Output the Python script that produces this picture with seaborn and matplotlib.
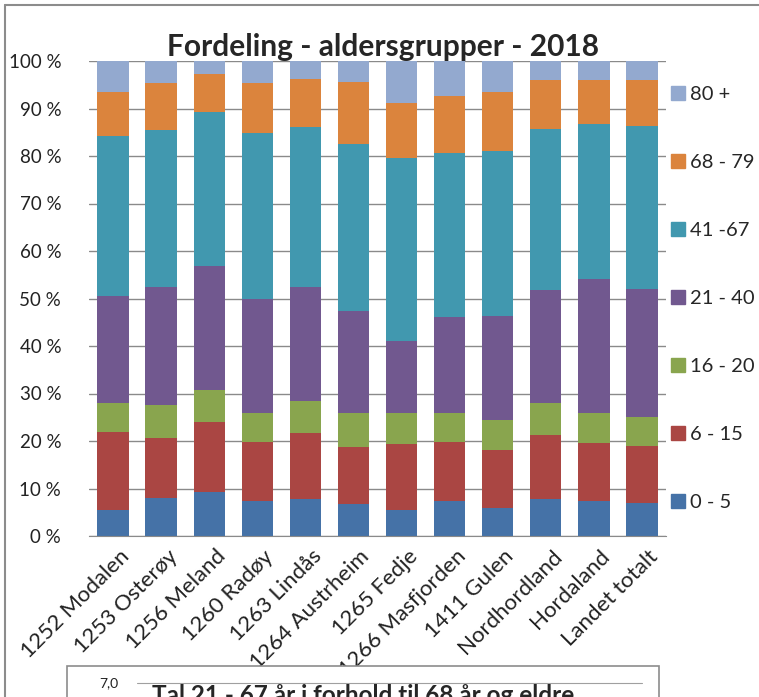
import numpy as np
import pandas as pd
import matplotlib
matplotlib.use("Agg")
import matplotlib.pyplot as plt
import matplotlib.transforms as mtransforms
from matplotlib.lines import Line2D
from matplotlib.patches import Rectangle
import seaborn as sns

# data (percent of population per age group)
kommunar = ["1252 Modalen", "1253 Osterøy", "1256 Meland", "1260 Radøy", "1263 Lindås",
            "1264 Austrheim", "1265 Fedje", "1266 Masfjorden", "1411 Gulen",
            "Nordhordland", "Hordaland", "Landet totalt"]
grupper = ["0 - 5", "6 - 15", "16 - 20", "21 - 40", "41 -67", "68 - 79", "80 +"]
alder_0_5 = [5.5, 7.9, 9.3, 7.4, 7.7, 6.8, 5.5, 7.3, 6.0, 7.7, 7.3, 7.0]
alder_6_15 = [16.3, 12.7, 14.8, 12.3, 13.9, 11.9, 13.9, 12.4, 12.1, 13.5, 12.3, 12.0]
alder_16_20 = [6.1, 6.9, 6.6, 6.3, 6.9, 7.3, 6.6, 6.3, 6.3, 6.7, 6.3, 6.1]
alder_21_40 = [22.7, 24.9, 26.2, 24.0, 23.9, 21.3, 15.1, 20.1, 21.9, 23.9, 28.2, 26.9]
alder_41_67 = [33.6, 33.1, 32.3, 34.9, 33.7, 35.3, 38.5, 34.6, 34.8, 33.9, 32.7, 34.4]
alder_68_79 = [9.2, 9.8, 8.0, 10.4, 10.1, 13.0, 11.5, 12.0, 12.3, 10.2, 9.1, 9.5]
alder_80 = [6.6, 4.7, 2.8, 4.7, 3.8, 4.4, 8.9, 7.3, 6.6, 4.1, 4.1, 4.1]

farger = ["#4572A7", "#AA4643", "#89A54E", "#71588F", "#4198AF", "#DB843D", "#93A9CF"]

df = pd.DataFrame({"kommune": kommunar})
for g, v in zip(grupper, [alder_0_5, alder_6_15, alder_16_20, alder_21_40,
                          alder_41_67, alder_68_79, alder_80]):
    df[g] = v
# normalise to 100 % and stack
andel = df[grupper].div(df[grupper].sum(axis=1), axis=0) * 100
kum = andel.cumsum(axis=1)

sns.set_style("white")
plt.rcParams["font.family"] = ["Lato", "DejaVu Sans"]

fig = plt.figure(figsize=(7.59, 6.97), dpi=100)
ax = fig.add_axes([89 / 759, 1 - 536 / 697, (666 - 89) / 759, (536 - 61) / 697])

# draw cumulative bars from the top group down so each layer shows its segment
for i in range(len(grupper) - 1, -1, -1):
    sns.barplot(x=df["kommune"], y=kum[grupper[i]], color=farger[i], width=0.65,
                saturation=1, ax=ax, zorder=2, linewidth=0, edgecolor="none")

ax.set_ylim(0, 100)
ax.set_yticks(np.arange(0, 101, 10))
ax.set_yticklabels([f"{t} %" for t in range(0, 101, 10)], fontsize=13.5, color="#222222")
ax.yaxis.grid(True, color="#8a8a8a", lw=1)
ax.set_axisbelow(True)
ax.tick_params(axis="y", length=0, pad=20)
ax.tick_params(axis="x", length=0, pad=12.5)
for s in ["top", "right", "left"]:
    ax.spines[s].set_visible(False)
ax.spines["bottom"].set_color("#8a8a8a")
ax.set_xlabel("")
ax.set_ylabel("")
ax.set_xlim(-0.5, len(kommunar) - 0.5)

offs = mtransforms.ScaledTranslation(13 / 100, 0, fig.dpi_scale_trans)
for lab in ax.get_xticklabels():
    lab.set_rotation(45)
    lab.set_ha("right")
    lab.set_va("center")
    lab.set_rotation_mode("anchor")
    lab.set_fontsize(16)
    lab.set_color("#222222")
    lab.set_transform(lab.get_transform() + offs)

fig.text(383 / 759, 1 - 56 / 697, "Fordeling - aldersgrupper - 2018", fontsize=21.5,
         fontweight="bold", ha="center", va="baseline")

handles = [Line2D([], [], marker="s", ls="none", markersize=10.5, color=c) for c in farger]
ax.legend(handles[::-1], grupper[::-1], loc="center left", bbox_to_anchor=(0.995, 0.5),
          frameon=False, fontsize=14.5, labelspacing=2.53, handlelength=0.7,
          handletextpad=0.25, borderaxespad=0.0)

# outer chart frame
fig.add_artist(Line2D([5 / 759, 1], [1 - 5 / 697] * 2, color="#8c8c8c", lw=1.5))
fig.add_artist(Line2D([5 / 759] * 2, [0, 1 - 5 / 697], color="#8c8c8c", lw=1.5))

# top of the next chart, cut off by the screenshot (lies over the long labels)
fig.add_artist(Rectangle((67 / 759, -0.05), (659 - 67) / 759, 0.05 + 1 - 666 / 697,
                         fc="white", ec="#8c8c8c", lw=1.2, zorder=5))
fig.add_artist(Line2D([137 / 759, 642 / 759], [1 - 683 / 697] * 2, color="#a0a0a0",
                      lw=0.8, zorder=6))
fig.text(118 / 759, 1 - 683 / 697, "7,0", fontsize=10, ha="right", va="center",
         color="#222222", zorder=6)
fig.text(152 / 759, 1 - 684 / 697, "Tal 21 - 67 år i forhold til 68 år og eldre",
         fontsize=17.5, fontweight="bold", ha="left", va="top", zorder=6)

fig.savefig("out.png", dpi=100)
